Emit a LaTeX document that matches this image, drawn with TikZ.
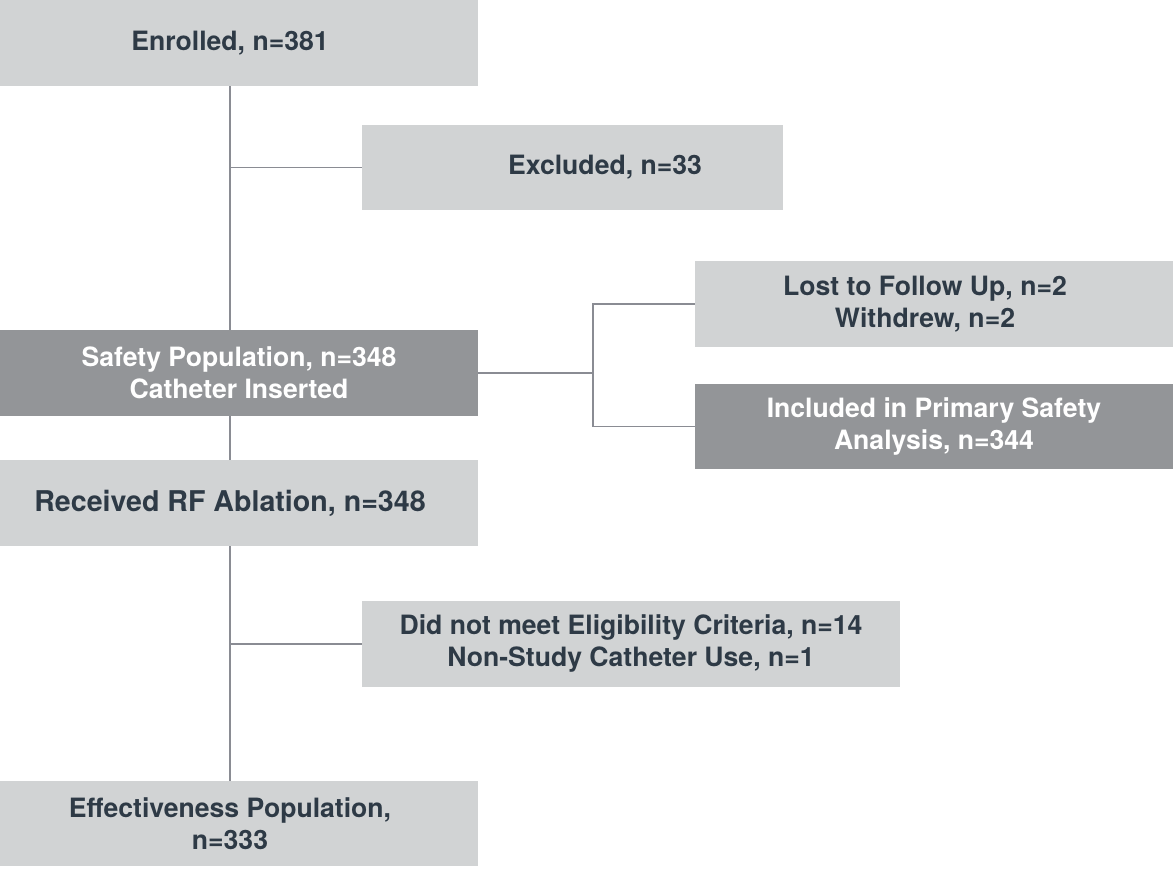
\documentclass[tikz,border=0pt]{standalone}
\usepackage{fontspec}
\setmainfont{TeX Gyre Heros}
\definecolor{txtdark}{HTML}{2E3A46}
\definecolor{boxlight}{HTML}{D1D3D4}
\definecolor{boxdark}{HTML}{939598}
\definecolor{linkgray}{HTML}{8A8C93}
\tikzset{
	lightbox/.style={fill=boxlight,text=txtdark,inner sep=0pt,align=center,
		minimum height=43pt,font=\bfseries\fontsize{13.3}{16}\selectfont},
	darkbox/.style={lightbox,fill=boxdark,text=white},
	link/.style={draw=linkgray,line width=0.7pt}
}
\begin{document}
\begin{tikzpicture}[x=0.5pt,y=-0.5pt]
				\useasboundingbox (0,0) rectangle (1173,870);
				%\draw [help lines] (0,0) grid (1173,870);
				\node[lightbox,minimum width=248pt] (enrolled) at (230,43) {Enrolled, n=381};
				\node[lightbox,minimum width=210.5pt,minimum height=42.5pt] (excluded) at (572.5,167.5) {\hspace*{32.5pt}Excluded, n=33};
				\node[darkbox,minimum width=239pt] (safety) at (239,373) {Safety Population, n=348\\Catheter Inserted};
				\node[lightbox,minimum width=239pt] (lost) at (934,304) {Lost to Follow Up, n=2\hspace*{9pt}\\Withdrew, n=2\hspace*{9pt}};
				\node[darkbox,minimum width=239pt,minimum height=42.5pt] (primary) at (934,426.5) {Included in Primary Safety\\Analysis, n=344};
				\node[lightbox,minimum width=248pt,font=\bfseries\fontsize{14.3}{17}\selectfont] (ablation) at (230,503) {Received RF Ablation, n=348};
				\node[lightbox,minimum width=269pt] (ineligible) at (631,644) {Did not meet Eligibility Criteria, n=14\\Non-Study Catheter Use, n=1};
				\node[lightbox,minimum width=248pt,minimum height=42.5pt] (effective) at (230,823.5) {Effectiveness Population,\\n=333};
				\coordinate (split) at (593,0);
				% main column
				\draw[link] (enrolled.south) -- (enrolled.south |- safety.north);
				\draw[link] (ablation.north |- safety.south) -- (ablation.north);
				\draw[link] (ablation.south) -- (effective.north);
				% side branches
				\draw[link] (enrolled.south |- excluded.west) -- (excluded.west);
				\draw[link] (ablation.south |- ineligible.west) -- (ineligible.west);
				\draw[link] (safety.east) -- (safety.east -| split);
				\draw[link] (lost.west) -- (lost.west -| split) -- (primary.west -| split) -- (primary.west);
\end{tikzpicture}
\end{document}
